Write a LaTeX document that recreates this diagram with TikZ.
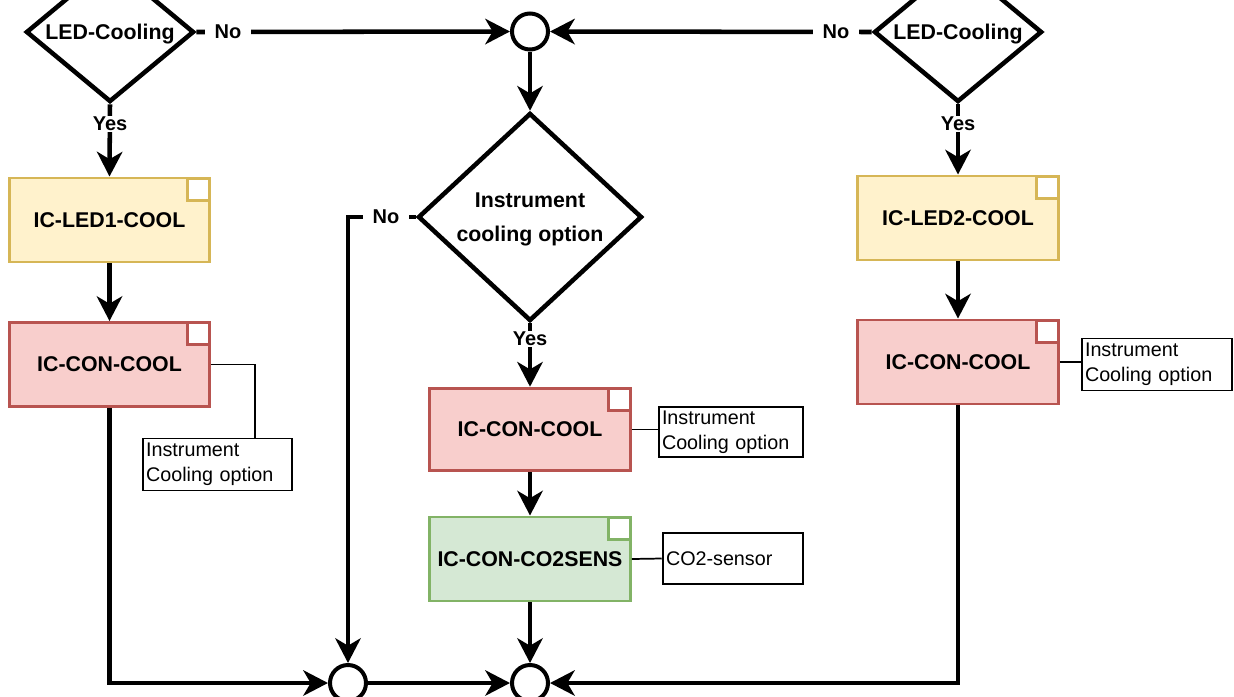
\documentclass[tikz,border=0pt]{standalone}
\usepackage{fontspec}
\setmainfont{Liberation Sans}
\usetikzlibrary{shapes.geometric,arrows.meta,calc}
\definecolor{yfill}{HTML}{FFF2CC}
\definecolor{yline}{HTML}{D6B656}
\definecolor{rfill}{HTML}{F8CECC}
\definecolor{rline}{HTML}{B85450}
\definecolor{gfill}{HTML}{D5E8D4}
\definecolor{gline}{HTML}{82B366}
\begin{document}
\begin{tikzpicture}[x=0.75pt,y=-0.75pt,
  conn/.style={line width=3.4pt,-{Stealth[length=18.5pt,width=19pt,inset=5.5pt]}},
  dec/.style={diamond,draw,line width=3.4pt,fill=white,inner sep=0pt,text depth=0pt,
    font=\bfseries\fontsize{16}{25.5}\selectfont,align=center},
  junc/.style={circle,draw,line width=3pt,fill=white,minimum size=27pt,inner sep=0pt},
  card/.style={rectangle,line width=2.2pt,inner sep=0pt,minimum width=150.5pt,
    minimum height=63pt,font=\bfseries\fontsize{16}{19}\selectfont},
  ycard/.style={card,draw=yline,fill=yfill},
  rcard/.style={card,draw=rline,fill=rfill},
  gcard/.style={card,draw=gline,fill=gfill},
  note/.style={rectangle,draw,line width=1.4pt,fill=white,inner xsep=2.5pt,
    inner ysep=0pt,align=left,font=\fontsize{14.8}{18.75}\selectfont},
  lbl/.style={fill=white,inner xsep=7pt,inner ysep=1pt,
    font=\bfseries\fontsize{15}{18}\selectfont},
  link/.style={line width=1.3pt}
]
\useasboundingbox (0,0) rectangle (1234,696);
\clip (0,0) rectangle (1234,696);
\fill[white] (0,0) rectangle (1234,696);

% decisions
\node[dec,minimum width=126pt,minimum height=105pt,aspect=1.2] (L1) at (110,32) {LED-Cooling};
\node[dec,minimum width=126pt,minimum height=105pt,aspect=1.2] (R1) at (958,32) {LED-Cooling};
\node[dec,minimum width=168pt,minimum height=156pt,aspect=1.08] (M) at (530,217) {Instrument\\cooling option};

% junctions
\node[junc] (C1) at (530,31.5) {};
\node[junc] (B1) at (348,683) {};
\node[junc] (B2) at (530,683) {};

% cards
\node[ycard] (LED1) at (109.5,220) {IC-LED1-COOL};
\node[rcard] (CON1) at (109.5,364.5) {IC-CON-COOL};
\node[rcard,minimum height=62pt] (CON2) at (530,429.5) {IC-CON-COOL};
\node[gcard] (SENS) at (530,559) {IC-CON-CO2SENS};
\node[ycard] (LED2) at (958,218) {IC-LED2-COOL};
\node[rcard] (CON3) at (958,362) {IC-CON-COOL};

\foreach \n/\c in {LED1/yline,CON1/rline,CON2/rline,SENS/gline,LED2/yline,CON3/rline}
  \draw[draw=\c,fill=white,line width=2.2pt] ($(\n.north east)+(-1.5,1.5)$) rectangle ($(\n.north east)+(-23.5,23.5)$);

% notes
\node[note,text width=107pt,minimum height=39pt] (A1) at (217.5,464.5) {Instrument\\Cooling option};
\node[note,text width=103.5pt,minimum height=38pt] (A2) at (731,432) {Instrument\\Cooling option};
\node[note,text width=100.5pt,minimum height=38pt] (A3) at (733,558.5) {CO2-sensor};
\node[note,text width=108pt,minimum height=39pt] (A4) at (1157,364.5) {Instrument\\Cooling option};

% note links
\coordinate (k1) at (255,364.5);
\draw[link] (CON1.east) -- (k1) -- (k1 |- A1.north);
\draw[link] (CON2.east) -- (CON2.east -| A2.west);
\draw[link] (SENS.east) -- (A3.west);
\draw[link] (CON3.east) -- (CON3.east -| A4.west);

% connectors
\draw[conn] (L1.east) -- (C1.west);
\draw[conn] (R1.west) -- (C1.east);
\draw[conn] (C1.south) -- (M.north);
\draw[conn] (L1.south) -- (LED1.north);
\draw[conn] (LED1.south) -- (CON1.north);
\draw[conn] (CON1.south) |- (B1.west);
\draw[conn] (M.west) -| (B1.north);
\draw[conn] (M.south) -- (CON2.north);
\draw[conn] (CON2.south) -- (SENS.north);
\draw[conn] (SENS.south) -- (B2.north);
\draw[conn] (B1.east) -- (B2.west);
\draw[conn] (R1.south) -- (LED2.north);
\draw[conn] (LED2.south) -- (CON3.north);
\draw[conn] (CON3.south) |- (B2.east);

% labels
\node[lbl] (n1) at (228,32) {No};
\node[lbl] (n2) at (836,32) {No};
\node[lbl] (y1) at (110,124) {Yes};
\node[lbl] (y2) at (958,124) {Yes};
\node[lbl] (n3) at (386,217) {No};
\node[lbl] (y3) at (530,339) {Yes};
\end{tikzpicture}
\end{document}
